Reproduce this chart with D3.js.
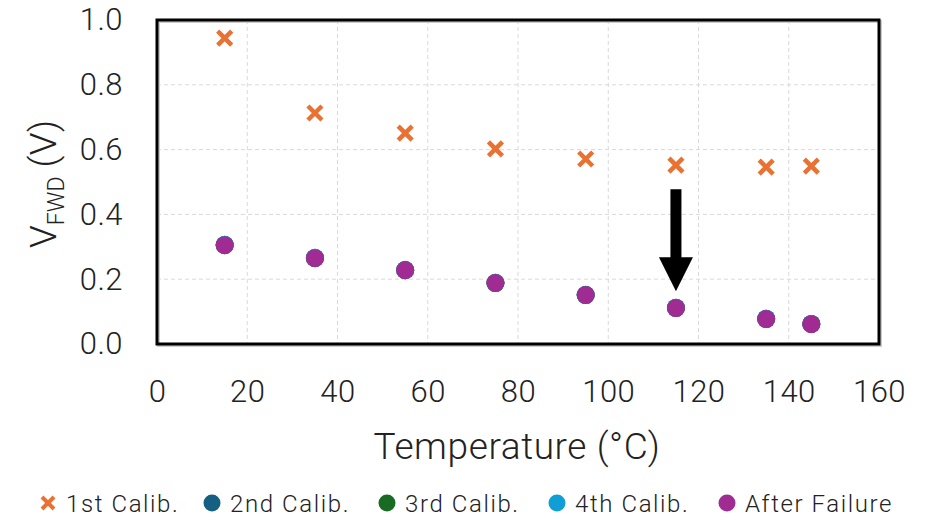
<!DOCTYPE html>
<meta charset="utf-8">
<style>
body { margin: 0; background: #fff; }
svg { font-family: Roboto, sans-serif; }
.tick text { font-weight: 300; fill: #222; }
.grid line { stroke: #d9d9d9; stroke-dasharray: 4,3; }
</style>
<body>
<svg width="927" height="520"></svg>
<script src="https://d3js.org/d3.v7.min.js"></script>
<script>

// temperatures (°C) where each calibration was taken
var temps = [15, 35, 55, 75, 95, 115, 135, 145];

var calib1 = [0.944, 0.713, 0.651, 0.602, 0.571, 0.552, 0.546, 0.549];
var calib2 = [0.306, 0.266, 0.229, 0.189, 0.152, 0.112, 0.078, 0.062];
var calib3 = [0.305, 0.265, 0.228, 0.188, 0.151, 0.111, 0.077, 0.062];
var calib4 = [0.306, 0.266, 0.228, 0.189, 0.151, 0.112, 0.078, 0.062];
var afterFailure = [0.305, 0.265, 0.228, 0.188, 0.151, 0.111, 0.077, 0.061];

var seriesNames = ["1st Calib.", "2nd Calib.", "3rd Calib.", "4th Calib.", "After Failure"];
var seriesColors = ["#E97132", "#156082", "#196B24", "#0F9ED5", "#A02B93"];
var seriesValues = [calib1, calib2, calib3, calib4, afterFailure];

var xTicks = [0, 20, 40, 60, 80, 100, 120, 140, 160];
var yTicks = [0, 0.2, 0.4, 0.6, 0.8, 1.0];

// arrow marking the failure point
var arrowAt = {temp: 115, from: 0.478, to: 0.163};

var svg = d3.select("svg"),
    margin = {top: 20, right: 48, bottom: 176, left: 157},
    width = 927 - margin.left - margin.right,
    height = 520 - margin.top - margin.bottom;

var x = d3.scaleLinear().domain([0, 160]).range([0, width]);
var y = d3.scaleLinear().domain([0, 1]).range([height, 0]);

var g = svg.append("g")
    .attr("transform", "translate(" + margin.left + "," + margin.top + ")");

// gridlines
g.append("g").attr("class", "grid")
  .selectAll("line").data(xTicks.slice(1, -1)).enter().append("line")
    .attr("x1", function(d) { return x(d); }).attr("x2", function(d) { return x(d); })
    .attr("y1", 0).attr("y2", height);
g.append("g").attr("class", "grid")
  .selectAll("line").data(yTicks.slice(1, -1)).enter().append("line")
    .attr("x1", 0).attr("x2", width)
    .attr("y1", function(d) { return y(d); }).attr("y2", function(d) { return y(d); });

// axes
var xAxis = g.append("g")
    .attr("transform", "translate(0," + height + ")")
    .call(d3.axisBottom(x).tickValues(xTicks).tickSize(0).tickPadding(36).tickFormat(d3.format("d")));
var yAxis = g.append("g")
    .call(d3.axisLeft(y).tickValues(yTicks).tickSize(0).tickPadding(34).tickFormat(d3.format(".1f")));
[xAxis, yAxis].forEach(function(a) {
  a.attr("font-family", "Roboto").attr("font-size", null);
  a.select(".domain").remove();
  a.selectAll("text").style("font-size", "31px").style("letter-spacing", "0.5px");
});

// frame
g.append("rect")
    .attr("x", 1.5).attr("y", 1.5)
    .attr("width", width).attr("height", height)
    .attr("fill", "none").attr("stroke", "#ccc").attr("stroke-width", 3);
g.append("rect")
    .attr("width", width).attr("height", height)
    .attr("fill", "none").attr("stroke", "#000").attr("stroke-width", 3);

function cross(s) {
  return "M" + (-s) + "," + (-s) + "L" + s + "," + s + "M" + (-s) + "," + s + "L" + s + "," + (-s);
}

// series
seriesValues.forEach(function(vals, i) {
  var pts = g.append("g").selectAll(null).data(vals).enter();
  if (i === 0) {
    pts.append("path")
        .attr("d", cross(7))
        .attr("transform", function(d, j) { return "translate(" + x(temps[j]) + "," + y(d) + ")"; })
        .attr("stroke", seriesColors[i]).attr("stroke-width", 4.5).attr("fill", "none");
  } else {
    pts.append("circle")
        .attr("cx", function(d, j) { return x(temps[j]); })
        .attr("cy", function(d) { return y(d); })
        .attr("r", 9)
        .attr("fill", seriesColors[i]);
  }
});

// arrow
var ax = x(arrowAt.temp), ay0 = y(arrowAt.from), ay1 = y(arrowAt.to);
g.append("path")
    .attr("d", "M" + (ax - 5.5) + "," + ay0 + "L" + (ax + 5.5) + "," + ay0 +
      "L" + (ax + 5.5) + "," + (ay1 - 34) + "L" + (ax + 17) + "," + (ay1 - 34) +
      "L" + ax + "," + ay1 + "L" + (ax - 17) + "," + (ay1 - 34) +
      "L" + (ax - 5.5) + "," + (ay1 - 34) + "Z")
    .attr("fill", "#000");

// axis titles
svg.append("text")
    .attr("x", margin.left + width / 2 - 1).attr("y", 459)
    .attr("text-anchor", "middle")
    .style("font-size", "37px").style("font-weight", 300).style("letter-spacing", "0.6px")
    .attr("fill", "#222")
    .text("Temperature (°C)");

var yt = svg.append("text")
    .attr("transform", "translate(56,184) rotate(-90)")
    .attr("text-anchor", "middle")
    .style("font-size", "37px").style("font-weight", 300).attr("fill", "#222");
yt.append("tspan").text("V");
yt.append("tspan").attr("dy", 8).style("font-size", "23px").text("FWD");
yt.append("tspan").attr("dy", -8).text(" (V)");

// legend
var legendX = [48, 212, 387, 557, 727];
var legend = svg.append("g").selectAll("g").data(seriesNames).enter().append("g")
    .attr("transform", function(d, i) { return "translate(" + legendX[i] + ",503)"; });
legend.each(function(d, i) {
  var el = d3.select(this);
  if (i === 0) {
    el.append("path").attr("d", cross(6))
        .attr("stroke", seriesColors[i]).attr("stroke-width", 4).attr("fill", "none");
  } else {
    el.append("circle").attr("r", 8.5).attr("fill", seriesColors[i]);
  }
  el.append("text").attr("x", 18).attr("y", 8.5)
      .style("font-size", "24px").style("font-weight", 300).style("letter-spacing", "1.6px")
      .attr("fill", "#222")
      .text(d);
});

</script>
</body>
